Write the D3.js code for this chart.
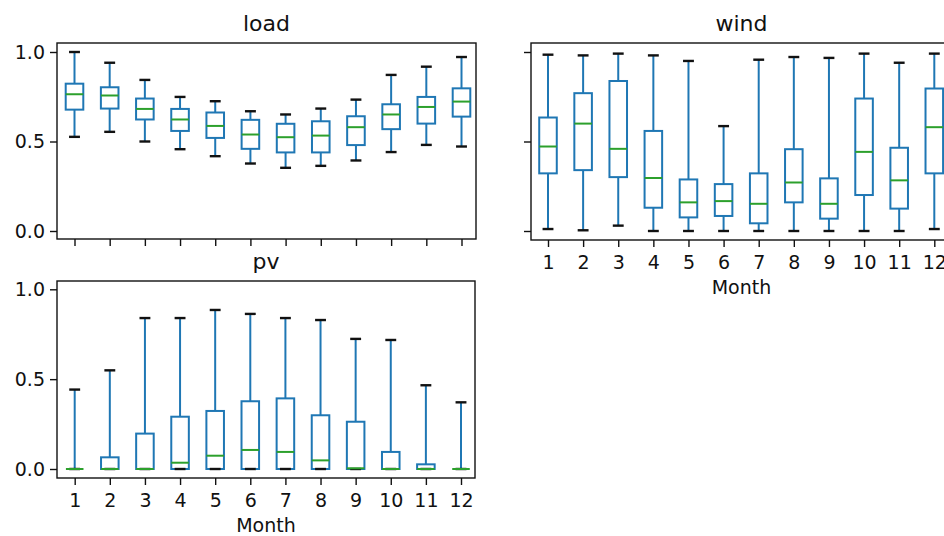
<!DOCTYPE html>
<html>
<head>
<meta charset="utf-8">
<script src="https://cdn.jsdelivr.net/npm/d3@7"></script>
<style>
	body { margin: 0; background: #fff; }
	svg { display: block; font-family: "DejaVu Sans", sans-serif; }
</style>
</head>
<body>
<div id="chart"></div>
<script>
var months = [1, 2, 3, 4, 5, 6, 7, 8, 9, 10, 11, 12]
var yTicks = [0, 0.5, 1.0]

// load
var loadLow = [0.526, 0.554, 0.500, 0.457, 0.418, 0.377, 0.353, 0.364, 0.394, 0.441, 0.481, 0.472]
var loadQ1 = [0.678, 0.684, 0.623, 0.559, 0.520, 0.459, 0.439, 0.439, 0.480, 0.569, 0.600, 0.639]
var loadMed = [0.764, 0.757, 0.682, 0.623, 0.587, 0.539, 0.524, 0.533, 0.580, 0.651, 0.693, 0.723]
var loadQ3 = [0.823, 0.803, 0.740, 0.682, 0.662, 0.621, 0.599, 0.613, 0.641, 0.708, 0.749, 0.797]
var loadHigh = [1.000, 0.940, 0.844, 0.749, 0.725, 0.669, 0.651, 0.684, 0.734, 0.872, 0.918, 0.972]

// wind
var windLow = [0.011, 0.004, 0.030, 0, 0, 0, 0, 0, 0, 0, 0, 0.011]
var windQ1 = [0.322, 0.340, 0.301, 0.130, 0.076, 0.084, 0.043, 0.160, 0.069, 0.201, 0.125, 0.322]
var windMed = [0.472, 0.600, 0.459, 0.296, 0.160, 0.167, 0.152, 0.271, 0.152, 0.442, 0.283, 0.580]
var windQ3 = [0.634, 0.770, 0.838, 0.559, 0.288, 0.262, 0.322, 0.457, 0.294, 0.740, 0.465, 0.796]
var windHigh = [0.985, 0.981, 0.991, 0.981, 0.950, 0.586, 0.957, 0.972, 0.967, 0.991, 0.940, 0.991]

// pv
var pvLow = [0, 0, 0, 0, 0, 0, 0, 0, 0, 0, 0, 0]
var pvQ1 = [0, 0, 0, 0, 0, 0, 0, 0, 0, 0, 0, 0]
var pvMed = [0, 0, 0, 0.035, 0.074, 0.106, 0.095, 0.048, 0.004, 0, 0, 0]
var pvQ3 = [0, 0.065, 0.197, 0.291, 0.323, 0.377, 0.393, 0.299, 0.263, 0.095, 0.026, 0]
var pvHigh = [0.442, 0.549, 0.840, 0.840, 0.885, 0.863, 0.840, 0.829, 0.724, 0.718, 0.466, 0.371]

var width = 944,
	height = 536

var svg = d3.select('#chart').append('svg')
	.attr('width', width)
	.attr('height', height)

function rows(low, q1, med, q3, high) {
	return months.map(function (m, i) {
		return { month: m, low: low[i], q1: q1[i], med: med[i], q3: q3[i], high: high[i] }
	})
}

var panels = [
	{ title: 'load', data: rows(loadLow, loadQ1, loadMed, loadQ3, loadHigh),
		left: 57, right: 476, top: 43, bottom: 239, x0: 74.5, x1: 461.5, y0: 231, y1: 52,
		yLabels: true, xLabels: false },
	{ title: 'wind', data: rows(windLow, windQ1, windMed, windQ3, windHigh),
		left: 531, right: 952, top: 43, bottom: 240, x0: 548, x1: 934.3, y0: 231, y1: 52,
		yLabels: false, xLabels: true },
	{ title: 'pv', data: rows(pvLow, pvQ1, pvMed, pvQ3, pvHigh),
		left: 57, right: 475, top: 281, bottom: 478, x0: 74.7, x1: 461, y0: 469, y1: 289.3,
		yLabels: true, xLabels: true }
]

panels.forEach(drawPanel)

function drawPanel(p) {
	var x = d3.scaleLinear().domain([1, 12]).range([p.x0, p.x1])
	var y = d3.scaleLinear().domain([0, 1]).range([p.y0, p.y1])
	var step = x(2) - x(1)
	var boxW = step * 0.5
	var capW = boxW * 0.62

	var g = svg.append('g')

	// boxes
	var box = g.selectAll('.box')
		.data(p.data)
		.enter().append('g')
		.attr('class', 'box')

	box.append('line')
		.attr('x1', function (d) { return x(d.month) })
		.attr('x2', function (d) { return x(d.month) })
		.attr('y1', function (d) { return y(d.low) })
		.attr('y2', function (d) { return y(d.q1) })
		.attr('stroke', '#1f77b4').attr('stroke-width', 2)
	box.append('line')
		.attr('x1', function (d) { return x(d.month) })
		.attr('x2', function (d) { return x(d.month) })
		.attr('y1', function (d) { return y(d.q3) })
		.attr('y2', function (d) { return y(d.high) })
		.attr('stroke', '#1f77b4').attr('stroke-width', 2)

	box.append('rect')
		.attr('x', function (d) { return x(d.month) - boxW / 2 })
		.attr('y', function (d) { return y(d.q3) })
		.attr('width', boxW)
		.attr('height', function (d) { return y(d.q1) - y(d.q3) })
		.attr('fill', 'none')
		.attr('stroke', '#1f77b4').attr('stroke-width', 2)

	box.selectAll('.cap')
		.data(function (d) { return [{ m: d.month, v: d.low }, { m: d.month, v: d.high }] })
		.enter().append('line')
		.attr('class', 'cap')
		.attr('x1', function (d) { return x(d.m) - capW / 2 })
		.attr('x2', function (d) { return x(d.m) + capW / 2 })
		.attr('y1', function (d) { return y(d.v) })
		.attr('y2', function (d) { return y(d.v) })
		.attr('stroke', '#111').attr('stroke-width', 2.4)

	box.append('line')
		.attr('x1', function (d) { return x(d.month) - boxW / 2 })
		.attr('x2', function (d) { return x(d.month) + boxW / 2 })
		.attr('y1', function (d) { return y(d.med) })
		.attr('y2', function (d) { return y(d.med) })
		.attr('stroke', '#2ca02c').attr('stroke-width', 2)

	// frame
	g.append('rect')
		.attr('x', p.left).attr('y', p.top)
		.attr('width', p.right - p.left)
		.attr('height', p.bottom - p.top)
		.attr('fill', 'none')
		.attr('stroke', '#111').attr('stroke-width', 1.4)

	// y axis
	var yAxis = d3.axisLeft(y).tickValues(yTicks).tickSize(7).tickPadding(5)
		.tickFormat(p.yLabels ? d3.format('.1f') : '')
	var ya = g.append('g')
		.attr('transform', 'translate(' + p.left + ',0)')
		.call(yAxis)
	// x axis
	var xAxis = d3.axisBottom(x).tickValues(months).tickSize(7).tickPadding(9)
		.tickFormat(p.xLabels ? d3.format('d') : '')
	var xa = g.append('g')
		.attr('transform', 'translate(0,' + p.bottom + ')')
		.call(xAxis)

	;[ya, xa].forEach(function (a) {
		a.select('.domain').remove()
		a.selectAll('line').attr('stroke', '#111').attr('stroke-width', 1.4)
		a.selectAll('text')
			.attr('fill', '#111')
			.style('font-size', '19px')
			.style('font-family', '"DejaVu Sans", sans-serif')
	})

	if (p.xLabels) {
		g.append('text')
			.attr('x', (p.left + p.right) / 2)
			.attr('y', p.bottom + 54)
			.attr('text-anchor', 'middle')
			.style('font-size', '19px')
			.attr('fill', '#111')
			.text('Month')
	}

	g.append('text')
		.attr('x', (p.left + p.right) / 2)
		.attr('y', p.top - 12)
		.attr('text-anchor', 'middle')
		.style('font-size', '22px')
		.attr('fill', '#111')
		.text(p.title)
}
</script>
</body>
</html>
